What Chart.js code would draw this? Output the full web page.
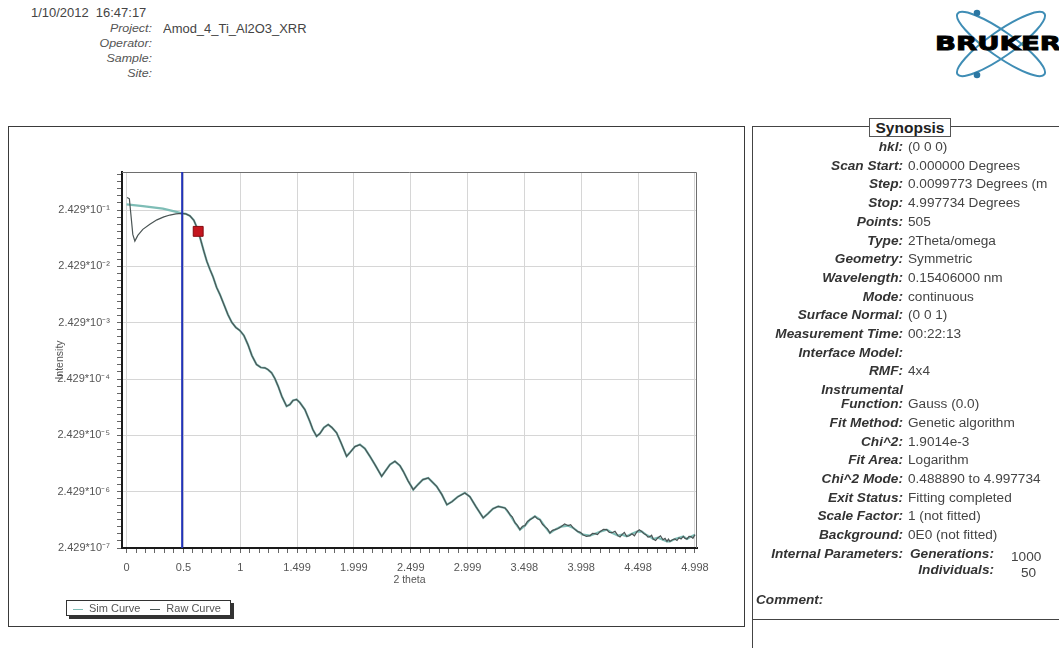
<!DOCTYPE html>
<html>
<head>
<meta charset="utf-8">
<script src="https://cdn.jsdelivr.net/npm/chart.js@4.4.1/dist/chart.umd.min.js"></script>
<style>
  html, body { margin: 0; padding: 0; background: #fff; }
  body { width: 1059px; height: 648px; position: relative; overflow: hidden;
         font-family: "Liberation Sans", Arial, sans-serif; color: #444; }
  .abs { position: absolute; white-space: nowrap; }
  .hl  { left: 72px; width: 80px; text-align: right; font-style: italic; font-size: 11.5px; color: #555;
         transform: scaleX(1.08); transform-origin: right center; }
  .hv  { font-size: 12px; color: #444; transform: scaleX(1.08); transform-origin: left center; }
  #plotbox { position: absolute; left: 8px; top: 126px; width: 737px; height: 501px;
             border: 1px solid #3a3a3a; box-sizing: border-box; }
  #wrap { position: absolute; left: 9px; top: 127px; width: 735px; height: 499px; }
  #legend { position: absolute; left: 66px; top: 600px; width: 165px; height: 16px;
            border: 1px solid #333; box-shadow: 3px 3px 0 #333; background: #fff;
            font-size: 11px; color: #555; line-height: 15px; box-sizing: border-box; }
  #legend span.item { margin-left: 6px; }
  #legend span.item + span.item { margin-left: 10px; }
  #legend i { display: inline-block; width: 10px; height: 0; vertical-align: middle;
              margin-right: 6px; border-top: 1.5px solid; }
  #panel { position: absolute; left: 752px; top: 126px; width: 330px; height: 494px;
           border: 1px solid #444; box-sizing: border-box; }
  #panel2 { position: absolute; left: 752px; top: 619px; width: 330px; height: 60px;
            border-left: 1px solid #444; border-top: 1px solid #444; }
  #syntitle { position: absolute; left: 869px; top: 118px; width: 80px; height: 17px;
              border: 1px solid #555; background: #fff; font-weight: bold; font-size: 15.5px;
              color: #222; text-align: center; line-height: 17px; }
  .sl { left: 752px; width: 151px; text-align: right; font-weight: bold; font-style: italic;
        font-size: 12.5px; color: #333; transform: scaleX(1.09); transform-origin: right center; }
  .sv { left: 908px; font-size: 12.5px; color: #444; transform: scaleX(1.09); transform-origin: left center; }
</style>
</head>
<body>

<div class="abs hv" style="left:31px;top:6px;">1/10/2012&nbsp; 16:47:17</div>
<div class="abs hl" style="top:22px;">Project:</div>
<div class="abs hv" style="left:163px;top:22px;">Amod_4_Ti_Al2O3_XRR</div>
<div class="abs hl" style="top:37px;">Operator:</div>
<div class="abs hl" style="top:52px;">Sample:</div>
<div class="abs hl" style="top:67px;">Site:</div>

<svg class="abs" style="left:930px;top:0;" width="129" height="88" viewBox="0 0 129 88">
  <g fill="none" stroke="#3f8db5" stroke-width="2">
    <ellipse cx="71" cy="44" rx="53" ry="12.5" transform="rotate(35 71 44)"/>
    <ellipse cx="71" cy="44" rx="53" ry="12.5" transform="rotate(-35 71 44)"/>
  </g>
  <circle cx="47" cy="13" r="3.3" fill="#2b77a3"/>
  <circle cx="47" cy="75" r="3.3" fill="#2b77a3"/>
  <text x="5" y="50" font-family="DejaVu Sans" font-weight="bold" font-size="20"
        stroke="#000" stroke-width="0.9" fill="#000"
        textLength="126" lengthAdjust="spacingAndGlyphs">BRUKER</text>
</svg>

<div id="plotbox"></div>
<div id="wrap"><canvas id="chart"></canvas></div>
<div id="legend"></div>

<div id="panel"></div>
<div id="panel2"></div>
<div id="synopsis"></div>
<div id="syntitle">Synopsis</div>

<script>
Chart.defaults.font.family = '"Liberation Sans", Arial, sans-serif';
Chart.defaults.color = '#555';

// ── Data ─────────────────────────────────────────────────────────────────────

const xTitle = '2 theta';
const yTitle = 'Intensity';

const xTickValues = [0, 0.5, 1, 1.499, 1.999, 2.499, 2.999, 3.498, 3.998, 4.498, 4.998];
const xTickLabels = ['0', '0.5', '1', '1.499', '1.999', '2.499', '2.999', '3.498', '3.998', '4.498', '4.998'];

const yTickValues = [2.429e-1, 2.429e-2, 2.429e-3, 2.429e-4, 2.429e-5, 2.429e-6, 2.429e-7];
const yTickLabels = ['2.429*10⁻¹', '2.429*10⁻²', '2.429*10⁻³', '2.429*10⁻⁴',
                     '2.429*10⁻⁵', '2.429*10⁻⁶', '2.429*10⁻⁷'];

const X_MIN = -0.04, X_MAX = 5.016;
const Y_MIN = 2.429e-7, Y_MAX = 1.15;

// measured curve (2theta in degrees, intensity)
const rawX = [
  0.005, 0.025, 0.038, 0.055, 0.073, 0.099, 0.143, 0.205, 0.267, 0.328,
  0.381, 0.434, 0.487, 0.521, 0.557, 0.592, 0.618, 0.636, 0.653, 0.680,
  0.706, 0.733, 0.759, 0.792, 0.821, 0.856, 0.891, 0.926, 0.961, 0.996,
  1.032, 1.067, 1.102, 1.143, 1.181, 1.216, 1.243, 1.275, 1.304, 1.333,
  1.366, 1.407, 1.436, 1.463, 1.495, 1.524, 1.568, 1.612, 1.638, 1.671,
  1.700, 1.735, 1.773, 1.806, 1.847, 1.885, 1.935, 1.964, 2.008, 2.052,
  2.096, 2.140, 2.184, 2.243, 2.272, 2.316, 2.360, 2.404, 2.433, 2.474,
  2.521, 2.562, 2.606, 2.653, 2.685, 2.727, 2.773, 2.817, 2.861, 2.914,
  2.975, 3.019, 3.072, 3.136, 3.178, 3.222, 3.268,
  3.327, 3.349, 3.371, 3.393, 3.415, 3.437, 3.459, 3.481, 3.503, 3.525,
  3.547, 3.569, 3.591, 3.613, 3.635, 3.657, 3.679, 3.701, 3.723, 3.745,
  3.767, 3.794, 3.820, 3.852, 3.884, 3.905, 3.925, 3.947, 3.969, 3.991,
  4.013, 4.044, 4.075, 4.097, 4.119, 4.141, 4.163, 4.193, 4.222, 4.245,
  4.268, 4.295, 4.321, 4.339, 4.356, 4.377, 4.398, 4.421, 4.444, 4.466,
  4.488, 4.509, 4.529, 4.548, 4.567, 4.585, 4.602, 4.617, 4.631, 4.652,
  4.673, 4.695, 4.717, 4.735, 4.752, 4.765, 4.778, 4.800, 4.822, 4.840,
  4.858, 4.876, 4.895, 4.911, 4.928, 4.946, 4.963, 4.980, 4.998,
];
const rawY = [
  0.404, 0.384, 0.204, 0.0898, 0.0683, 0.0863, 0.1103, 0.1353, 0.1627, 0.1838,
  0.1979, 0.2079, 0.2122, 0.2079, 0.1916, 0.1594, 0.1197, 0.0936, 0.0703, 0.0448,
  0.0298, 0.02146, 0.01611, 0.01027, 0.00771, 0.00512, 0.00340, 0.00245, 0.00200, 0.00177,
  0.00144, 0.000997, 0.000636, 0.000440, 0.000389, 0.000384, 0.000358, 0.000313, 0.000248, 0.000181,
  0.0001187, 7.98e-5, 8.56e-5, 1.008e-4, 1.050e-4, 9.29e-5, 6.97e-5, 4.27e-5, 3.08e-5, 2.34e-5,
  2.61e-5, 3.34e-5, 3.77e-5, 3.34e-5, 2.69e-5, 1.807e-5, 1.031e-5, 1.200e-5, 1.534e-5, 1.665e-5,
  1.413e-5, 1.031e-5, 7.34e-6, 4.55e-6, 5.51e-6, 7.34e-6, 8.40e-6, 7.05e-6, 5.58e-6, 3.82e-6,
  2.64e-6, 3.24e-6, 3.98e-6, 4.26e-6, 3.66e-6, 3.02e-6, 2.15e-6, 1.429e-6, 1.616e-6, 1.982e-6,
  2.31e-6, 1.982e-6, 1.317e-6, 8.30e-7, 9.89e-7, 1.213e-6, 1.333e-6,
  1.248e-6, 1.12e-6, 9.49e-7, 8.6e-7, 6.84e-7, 6.1e-7, 5.14e-7, 5.9e-7, 6.05e-7, 7.2e-7,
  7.74e-7, 8.2e-7, 8.86e-7, 8.0e-7, 7.74e-7, 6.4e-7, 5.81e-7, 5.3e-7, 4.49e-7, 5.0e-7,
  5.14e-7, 5.4e-7, 5.81e-7, 6.5e-7, 6.05e-7, 6.3e-7, 5.58e-7, 5.1e-7, 4.73e-7, 4.6e-7,
  4.19e-7, 3.9e-7, 4.02e-7, 4.4e-7, 4.36e-7, 4.2e-7, 4.73e-7, 5.2e-7, 5.14e-7, 4.6e-7,
  4.54e-7, 4.8e-7, 4.02e-7, 3.8e-7, 4.19e-7, 4.6e-7, 3.91e-7, 4.0e-7, 4.36e-7, 4.0e-7,
  4.73e-7, 5.1e-7, 4.79e-7, 4.4e-7, 4.19e-7, 3.8e-7, 3.86e-7, 4.1e-7, 3.51e-7, 3.3e-7,
  3.70e-7, 4.0e-7, 3.41e-7, 3.6e-7, 3.18e-7, 3.5e-7, 3.18e-7, 3.4e-7, 3.51e-7, 3.3e-7,
  3.70e-7, 3.5e-7, 3.91e-7, 3.6e-7, 3.51e-7, 3.9e-7, 3.86e-7, 3.6e-7, 4.19e-7,
];

// simulated curve
const simX = [
  0, 0.143, 0.320, 0.420, 0.487,
  0.521, 0.557, 0.592, 0.618, 0.636, 0.653, 0.680, 0.706, 0.733, 0.759,
  0.792, 0.821, 0.856, 0.891, 0.926, 0.961, 0.996, 1.032, 1.067, 1.102,
  1.143, 1.181, 1.216, 1.243, 1.275, 1.304, 1.333, 1.366, 1.407, 1.436,
  1.463, 1.495, 1.524, 1.568, 1.612, 1.638, 1.671, 1.700, 1.735, 1.773,
  1.806, 1.847, 1.885, 1.935, 1.964, 2.008, 2.052, 2.096, 2.140, 2.184,
  2.243, 2.272, 2.316, 2.360, 2.404, 2.433, 2.474, 2.521, 2.562, 2.606,
  2.653, 2.685, 2.727, 2.773, 2.817, 2.861, 2.914, 2.975, 3.019, 3.072,
  3.136, 3.178, 3.222, 3.268, 3.327, 3.371, 3.415, 3.459, 3.503, 3.547,
  3.591, 3.635, 3.679, 3.723, 3.767, 3.820, 3.884, 3.925, 3.969, 4.013,
  4.075, 4.119, 4.163, 4.222, 4.268, 4.321, 4.356, 4.398, 4.444, 4.488,
  4.529, 4.567, 4.602, 4.631, 4.673, 4.717, 4.752, 4.778, 4.822, 4.858,
  4.895, 4.928, 4.963, 4.998,
];
const simY = [
  0.307, 0.286, 0.257, 0.230, 0.212,
  0.2079, 0.1916, 0.1594, 0.1197, 0.0936, 0.0703, 0.0448, 0.0298, 0.02146, 0.01611,
  0.01027, 0.00771, 0.00512, 0.00340, 0.00245, 0.00200, 0.00177, 0.00144, 0.000997, 0.000636,
  0.000440, 0.000389, 0.000384, 0.000358, 0.000313, 0.000248, 0.000181, 0.0001187, 7.98e-5, 8.56e-5,
  1.008e-4, 1.050e-4, 9.29e-5, 6.97e-5, 4.27e-5, 3.08e-5, 2.34e-5, 2.61e-5, 3.34e-5, 3.77e-5,
  3.34e-5, 2.69e-5, 1.807e-5, 1.031e-5, 1.200e-5, 1.534e-5, 1.665e-5, 1.413e-5, 1.031e-5, 7.34e-6,
  4.55e-6, 5.51e-6, 7.34e-6, 8.40e-6, 7.05e-6, 5.58e-6, 3.82e-6, 2.64e-6, 3.24e-6, 3.98e-6,
  4.26e-6, 3.66e-6, 3.02e-6, 2.15e-6, 1.429e-6, 1.616e-6, 1.982e-6, 2.31e-6, 1.982e-6, 1.317e-6,
  8.30e-7, 9.89e-7, 1.213e-6, 1.333e-6, 1.248e-6, 9.49e-7, 6.84e-7, 5.14e-7, 6.05e-7, 7.74e-7,
  8.86e-7, 7.74e-7, 5.81e-7, 4.49e-7, 5.14e-7, 5.81e-7, 6.05e-7, 5.58e-7, 4.73e-7, 4.19e-7,
  4.02e-7, 4.36e-7, 4.73e-7, 5.14e-7, 4.54e-7, 4.02e-7, 4.19e-7, 3.91e-7, 4.36e-7, 4.73e-7,
  4.79e-7, 4.19e-7, 3.86e-7, 3.51e-7, 3.70e-7, 3.41e-7, 3.18e-7, 3.18e-7, 3.51e-7, 3.70e-7,
  3.91e-7, 3.51e-7, 3.86e-7, 4.19e-7,
];

const chiStartX = 0.48889;             // start of the Chi^2 fit range (blue line)
const cursorX = 0.63, cursorY = 0.1016; // red cursor square

// ── Synopsis text ────────────────────────────────────────────────────────────

const synRows = [
  ['hkl:', '(0 0 0)'],
  ['Scan Start:', '0.000000 Degrees'],
  ['Step:', '0.0099773 Degrees (m'],
  ['Stop:', '4.997734 Degrees'],
  ['Points:', '505'],
  ['Type:', '2Theta/omega'],
  ['Geometry:', 'Symmetric'],
  ['Wavelength:', '0.15406000 nm'],
  ['Mode:', 'continuous'],
  ['Surface Normal:', '(0 0 1)'],
  ['Measurement Time:', '00:22:13'],
  ['Interface Model:', ''],
  ['RMF:', '4x4'],
  ['Instrumental', ''],
  ['Function:', 'Gauss (0.0)', 14],
  ['Fit Method:', 'Genetic algorithm'],
  ['Chi^2:', '1.9014e-3'],
  ['Fit Area:', 'Logarithm'],
  ['Chi^2 Mode:', '0.488890 to 4.997734'],
  ['Exit Status:', 'Fitting completed'],
  ['Scale Factor:', '1 (not fitted)'],
  ['Background:', '0E0 (not fitted)'],
  ['Internal Parameters:', ''],
];
const internalParams = [['Generations:', '1000'], ['Individuals:', '50']];

function buildSynopsis() {
  const box = document.getElementById('synopsis');
  let y = 147;
  const add = (cls, top, text, extra) => {
    const d = document.createElement('div');
    d.className = 'abs ' + cls;
    d.style.top = (top - 7) + 'px';
    if (extra) Object.assign(d.style, extra);
    d.textContent = text;
    box.appendChild(d);
  };
  synRows.forEach((r, i) => {
    if (i) y += r[2] || 18.7;
    add('sl', y, r[0]);
    if (r[1]) add('sv', y, r[1]);
  });
  internalParams.forEach((p, i) => {
    const py = y + i * 16;
    add('sl', py, p[0], { left: '843px' });
    add('sv', py + 3, p[1], { left: (i ? 1021 : 1011) + 'px' });
  });
  add('sl', 600, 'Comment:', { left: '756px', width: 'auto', textAlign: 'left', transformOrigin: 'left center' });
}

// ── Chart helpers ────────────────────────────────────────────────────────────

const GRID = '#d6d6d6';
const SIM_COLOR = '#7ebdb6';
const RAW_COLOR = '#4a5454';

function buildXTicks() {
  const out = [];
  xTickValues.forEach((v, i) => {
    out.push({ value: v, major: true, lbl: xTickLabels[i] });
    const next = xTickValues[i + 1];
    if (next === undefined) return;
    for (let k = 1; k < 6; k++) out.push({ value: v + (next - v) * k / 6, major: false, lbl: '' });
  });
  return out;
}

function buildYTicks() {
  const out = [];
  yTickValues.forEach((v, i) => {
    out.push({ value: v, major: true, lbl: yTickLabels[i] });
    const upper = i === 0 ? Y_MAX : yTickValues[i - 1];
    for (let k = 1; k < 8; k++) {
      const m = v * Math.pow(10, k / 8);
      if (m < upper * 0.999) out.push({ value: m, major: false, lbl: '' });
    }
  });
  return out.sort((a, b) => a.value - b.value);
}

// thin frame on the top and right side of the plot area
const framePlugin = {
  id: 'frame',
  beforeDatasetsDraw(chart) {
    const { ctx, chartArea: a } = chart;
    ctx.save();
    ctx.strokeStyle = '#6e6e6e';
    ctx.lineWidth = 1;
    ctx.beginPath();
    ctx.moveTo(a.left, a.top + 0.5);
    ctx.lineTo(a.right - 0.5, a.top + 0.5);
    ctx.lineTo(a.right - 0.5, a.bottom);
    ctx.stroke();
    ctx.restore();
  },
};

const pts = (xs, ys) => xs.map((x, i) => ({ x, y: ys[i] }));
const gridColor = c => (c.tick && c.tick.major ? GRID : 'rgba(0,0,0,0)');

const chart = new Chart(document.getElementById('chart'), {
  type: 'line',
  data: {
    datasets: [
      { label: 'Sim Curve', inLegend: true, data: pts(simX, simY),
        borderColor: SIM_COLOR, borderWidth: 2.2, pointRadius: 0, order: 3 },
      { label: 'Raw Curve', inLegend: true, data: pts(rawX, rawY),
        borderColor: RAW_COLOR, borderWidth: 1.2, pointRadius: 0, order: 2 },
      { label: 'Fit start', data: [{ x: chiStartX, y: Y_MIN }, { x: chiStartX, y: Y_MAX }],
        borderColor: '#2233b8', borderWidth: 2, pointRadius: 0, order: 1 },
      { label: 'Cursor', data: [{ x: cursorX, y: cursorY }], showLine: false,
        pointStyle: 'rect', pointRadius: 7, backgroundColor: '#c4161e',
        borderColor: '#860a10', borderWidth: 1, order: 0 },
    ],
  },
  options: {
    animation: false,
    responsive: true,
    maintainAspectRatio: false,
    layout: { padding: { left: 41, top: 45, right: 47, bottom: 40 } },
    plugins: { legend: { display: false }, tooltip: { enabled: false } },
    scales: {
      x: {
        type: 'linear', min: X_MIN, max: X_MAX,
        afterBuildTicks: s => { s.ticks = buildXTicks(); },
        afterFit: s => { s.height = 38; },
        ticks: { autoSkip: false, maxRotation: 0, padding: 8, color: '#555',
                 font: { size: 11 }, callback: (v, i, t) => t[i].lbl },
        grid: { color: gridColor, tickColor: '#666', tickLength: 5 },
        border: { color: '#1a1a1a', width: 2 },
        title: { display: true, text: xTitle, color: '#555', font: { size: 10.5 }, padding: 0 },
      },
      y: {
        type: 'logarithmic', min: Y_MIN, max: Y_MAX,
        afterBuildTicks: s => { s.ticks = buildYTicks(); },
        afterFit: s => { s.width = 72; },
        ticks: { autoSkip: false, padding: 7, color: '#555',
                 font: { size: 11 }, callback: (v, i, t) => t[i].lbl },
        grid: { color: gridColor, tickColor: '#666', tickLength: 5 },
        border: { color: '#1a1a1a', width: 2 },
        title: { display: true, text: yTitle, color: '#555', font: { size: 10.5 },
                 padding: { top: 4, bottom: 4 } },
      },
    },
  },
  plugins: [framePlugin],
});

function buildLegend() {
  const el = document.getElementById('legend');
  chart.data.datasets.filter(d => d.inLegend).forEach(d => {
    const s = document.createElement('span');
    s.className = 'item';
    const mark = document.createElement('i');
    mark.style.borderTopColor = d.borderColor;
    s.appendChild(mark);
    s.appendChild(document.createTextNode(d.label));
    el.appendChild(s);
  });
}

buildLegend();
buildSynopsis();
</script>
</body>
</html>
